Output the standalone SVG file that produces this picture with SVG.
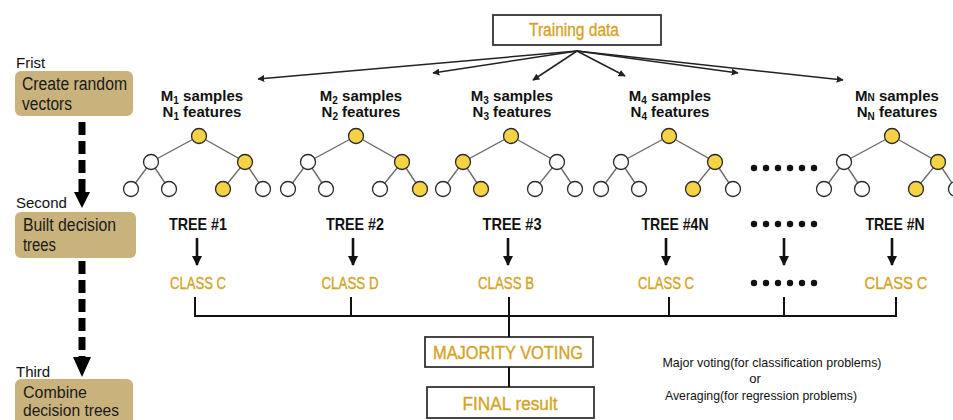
<svg xmlns="http://www.w3.org/2000/svg" xmlns:xlink="http://www.w3.org/1999/xlink" width="953" height="420" viewBox="0 0 953 420">
<style>
  text { font-family: "Liberation Sans", Arial, sans-serif; }
  .step { font-size: 15px; fill: #111; }
  .boxt { font-size: 18px; fill: #1a1a1a; }
  .boxs { font-size: 16.5px; fill: #1a1a1a; }
  .tan { fill: #c9b27c; }
  .lab { font-size: 15px; font-weight: bold; fill: #111; text-anchor: middle; }
  .tl { font-size: 16.5px; font-weight: bold; fill: #111; text-anchor: middle; }
  .gold { fill: #d4a326; stroke: #d4a326; stroke-width: 0.35; text-anchor: middle; }
  .cls { font-size: 16.5px; }
  .note { font-size: 13px; fill: #111; text-anchor: middle; }
  .edge { stroke: #6d6d6d; stroke-width: 1.4; fill: none; }
  .nw { fill: #fff; stroke: #2a2a2a; stroke-width: 1.3; }
  .ny { fill: #f6d345; stroke: #2a2a2a; stroke-width: 1.3; }
  .thin { stroke: #222; stroke-width: 1.5; fill: none; }
  .bus { stroke: #111; stroke-width: 2; fill: none; }
  .box { fill: #fff; stroke: #333; stroke-width: 1.8; }
  .dash { stroke: #000; stroke-width: 7; stroke-dasharray: 13 6; fill: none; }
</style>
<defs>
  <marker id="ah" viewBox="0 0 10 10" refX="9" refY="5" markerWidth="7" markerHeight="7" markerUnits="userSpaceOnUse" orient="auto">
    <path d="M0,0 L10,5 L0,10 z" fill="#222"/>
  </marker>
  <g id="edges">
    <path class="edge" d="M0,136 L-48,162 L-68,189 M-48,162 L-30,189 M0,136 L46,162 L24,189 M46,162 L64,189"/>
  </g>
  <path id="darrow" d="M0,0 L0,27" stroke="#111" stroke-width="2.6"/>
</defs>

<!-- Left steps -->
<g id="step1">
  <text class="step" x="16" y="68">Frist</text>
  <rect class="tan" x="15" y="71" width="118" height="45" rx="6"/>
  <text class="boxt" x="22" y="90" textLength="105" lengthAdjust="spacingAndGlyphs">Create random</text>
  <text class="boxt" x="22" y="110" textLength="50" lengthAdjust="spacingAndGlyphs">vectors</text>
</g>
<g id="step2">
  <text class="step" x="16" y="208">Second</text>
  <rect class="tan" x="15" y="212" width="121" height="46" rx="6"/>
  <text class="boxt" x="23" y="231" textLength="93" lengthAdjust="spacingAndGlyphs">Built decision</text>
  <text class="boxt" x="23" y="251" textLength="33" lengthAdjust="spacingAndGlyphs">trees</text>
</g>
<g id="step3">
  <text class="step" x="16" y="377">Third</text>
  <rect class="tan" x="15" y="379" width="118" height="50" rx="6"/>
  <text class="boxs" x="23" y="398" textLength="64" lengthAdjust="spacingAndGlyphs">Combine</text>
  <text class="boxs" x="23" y="416" textLength="96" lengthAdjust="spacingAndGlyphs">decision trees</text>
</g>

<!-- Training data -->
<g id="training">
  <rect class="box" x="493" y="15" width="168" height="30"/>
  <text class="gold" x="574" y="36" font-size="17.5" textLength="90" lengthAdjust="spacingAndGlyphs">Training data</text>
</g>

<!-- Trees -->
<g id="tree1">
  <text class="lab" x="202" y="101">M<tspan font-size="10" dy="3">1</tspan><tspan dy="-3"> samples</tspan></text>
  <text class="lab" x="202" y="117">N<tspan font-size="10" dy="3">1</tspan><tspan dy="-3"> features</tspan></text>
  <g transform="translate(199,0)">
    <use xlink:href="#edges"/>
    <circle class="ny" cx="0" cy="136" r="7.5"/>
    <circle class="nw" cx="-48" cy="162" r="7.5"/>
    <circle class="ny" cx="46" cy="162" r="7.5"/>
    <circle class="nw" cx="-68" cy="189" r="7.5"/>
    <circle class="nw" cx="-30" cy="189" r="7.5"/>
    <circle class="ny" cx="24" cy="189" r="7.5"/>
    <circle class="nw" cx="64" cy="189" r="7.5"/>
  </g>
  <text class="tl" x="198" y="230" textLength="58" lengthAdjust="spacingAndGlyphs">TREE #1</text>
  <use xlink:href="#darrow" transform="translate(197,238)"/>
  <path d="M192,256 L202,256 L197,266 z" fill="#111"/>
  <text class="gold cls" x="198" y="289" textLength="56" lengthAdjust="spacingAndGlyphs">CLASS C</text>
</g>

<g id="tree2">
  <text class="lab" x="361" y="101">M<tspan font-size="10" dy="3">2</tspan><tspan dy="-3"> samples</tspan></text>
  <text class="lab" x="361" y="117">N<tspan font-size="10" dy="3">2</tspan><tspan dy="-3"> features</tspan></text>
  <g transform="translate(356,0)">
    <use xlink:href="#edges"/>
    <circle class="ny" cx="0" cy="136" r="7.5"/>
    <circle class="nw" cx="-48" cy="162" r="7.5"/>
    <circle class="ny" cx="46" cy="162" r="7.5"/>
    <circle class="nw" cx="-68" cy="189" r="7.5"/>
    <circle class="nw" cx="-30" cy="189" r="7.5"/>
    <circle class="nw" cx="24" cy="189" r="7.5"/>
    <circle class="ny" cx="64" cy="189" r="7.5"/>
  </g>
  <text class="tl" x="355" y="230" textLength="58" lengthAdjust="spacingAndGlyphs">TREE #2</text>
  <use xlink:href="#darrow" transform="translate(353,238)"/>
  <path d="M348,256 L358,256 L353,266 z" fill="#111"/>
  <text class="gold cls" x="350" y="289" textLength="57" lengthAdjust="spacingAndGlyphs">CLASS D</text>
</g>

<g id="tree3">
  <text class="lab" x="512" y="101">M<tspan font-size="10" dy="3">3</tspan><tspan dy="-3"> samples</tspan></text>
  <text class="lab" x="512" y="117">N<tspan font-size="10" dy="3">3</tspan><tspan dy="-3"> features</tspan></text>
  <g transform="translate(511,0)">
    <use xlink:href="#edges"/>
    <circle class="ny" cx="0" cy="136" r="7.5"/>
    <circle class="ny" cx="-48" cy="162" r="7.5"/>
    <circle class="nw" cx="46" cy="162" r="7.5"/>
    <circle class="nw" cx="-68" cy="189" r="7.5"/>
    <circle class="ny" cx="-30" cy="189" r="7.5"/>
    <circle class="nw" cx="24" cy="189" r="7.5"/>
    <circle class="nw" cx="64" cy="189" r="7.5"/>
  </g>
  <text class="tl" x="512" y="230" textLength="59" lengthAdjust="spacingAndGlyphs">TREE #3</text>
  <use xlink:href="#darrow" transform="translate(508,238)"/>
  <path d="M503,256 L513,256 L508,266 z" fill="#111"/>
  <text class="gold cls" x="506" y="289" textLength="56" lengthAdjust="spacingAndGlyphs">CLASS B</text>
</g>

<g id="tree4">
  <text class="lab" x="670" y="101">M<tspan font-size="10" dy="3">4</tspan><tspan dy="-3"> samples</tspan></text>
  <text class="lab" x="670" y="117">N<tspan font-size="10" dy="3">4</tspan><tspan dy="-3"> features</tspan></text>
  <g transform="translate(669,0)">
    <use xlink:href="#edges"/>
    <circle class="ny" cx="0" cy="136" r="7.5"/>
    <circle class="nw" cx="-48" cy="162" r="7.5"/>
    <circle class="ny" cx="46" cy="162" r="7.5"/>
    <circle class="nw" cx="-68" cy="189" r="7.5"/>
    <circle class="nw" cx="-30" cy="189" r="7.5"/>
    <circle class="ny" cx="24" cy="189" r="7.5"/>
    <circle class="nw" cx="64" cy="189" r="7.5"/>
  </g>
  <text class="tl" x="675" y="230" textLength="67" lengthAdjust="spacingAndGlyphs">TREE #4N</text>
  <use xlink:href="#darrow" transform="translate(666,238)"/>
  <path d="M661,256 L671,256 L666,266 z" fill="#111"/>
  <text class="gold cls" x="666" y="289" textLength="56" lengthAdjust="spacingAndGlyphs">CLASS C</text>
</g>

<g id="treeDots">
  <g fill="#111">
    <circle cx="754" cy="168" r="3.2"/><circle cx="766" cy="168" r="3.2"/><circle cx="778" cy="168" r="3.2"/>
    <circle cx="790" cy="168" r="3.2"/><circle cx="802" cy="168" r="3.2"/><circle cx="814" cy="168" r="3.2"/>
    <circle cx="754" cy="224" r="3.2"/><circle cx="766" cy="224" r="3.2"/><circle cx="778" cy="224" r="3.2"/>
    <circle cx="790" cy="224" r="3.2"/><circle cx="802" cy="224" r="3.2"/><circle cx="814" cy="224" r="3.2"/>
    <circle cx="754" cy="283" r="3.2"/><circle cx="766" cy="283" r="3.2"/><circle cx="778" cy="283" r="3.2"/>
    <circle cx="790" cy="283" r="3.2"/><circle cx="802" cy="283" r="3.2"/><circle cx="814" cy="283" r="3.2"/>
  </g>
  <use xlink:href="#darrow" transform="translate(784,238)"/>
  <path d="M779,256 L789,256 L784,266 z" fill="#111"/>
</g>

<g id="treeN">
  <text class="lab" x="897" y="101">M<tspan font-size="10">N</tspan><tspan> samples</tspan></text>
  <text class="lab" x="897" y="117">N<tspan font-size="10" dy="3">N</tspan><tspan dy="-3"> features</tspan></text>
  <g transform="translate(892,0)">
    <use xlink:href="#edges"/>
    <circle class="ny" cx="0" cy="136" r="7.5"/>
    <circle class="nw" cx="-48" cy="162" r="7.5"/>
    <circle class="ny" cx="46" cy="162" r="7.5"/>
    <circle class="nw" cx="-68" cy="189" r="7.5"/>
    <circle class="nw" cx="-30" cy="189" r="7.5"/>
    <circle class="ny" cx="24" cy="189" r="7.5"/>
    <circle class="nw" cx="64" cy="189" r="7.5"/>
  </g>
  <text class="tl" x="895" y="230" textLength="59" lengthAdjust="spacingAndGlyphs">TREE #N</text>
  <use xlink:href="#darrow" transform="translate(892,238)"/>
  <path d="M887,256 L897,256 L892,266 z" fill="#111"/>
  <text class="gold cls" x="896" y="289" textLength="63" lengthAdjust="spacingAndGlyphs">CLASS C</text>
</g>

<!-- Result boxes -->
<g id="majority">
  <rect class="box" x="425" y="337" width="168" height="30"/>
  <text class="gold" x="508" y="358.5" font-size="18" textLength="150" lengthAdjust="spacingAndGlyphs">MAJORITY  VOTING</text>
</g>
<g id="final">
  <rect class="box" x="427" y="387" width="167" height="31"/>
  <text class="gold" x="510" y="409.5" font-size="18" textLength="95" lengthAdjust="spacingAndGlyphs">FINAL result</text>
</g>

<g id="note">
  <text class="note" x="772" y="367" textLength="219" lengthAdjust="spacingAndGlyphs">Major voting(for classification problems)</text>
  <text class="note" x="755" y="383">or</text>
  <text class="note" x="761" y="400" textLength="192" lengthAdjust="spacingAndGlyphs">Averaging(for regression problems)</text>
</g>

<!-- Connectors -->
<g id="connectors">
  <path class="thin" d="M577,51 L258,79" marker-end="url(#ah)"/>
  <path class="thin" d="M577,51 L433,73" marker-end="url(#ah)"/>
  <path class="thin" d="M577,51 L533,80" marker-end="url(#ah)"/>
  <path class="thin" d="M577,51 L625,76" marker-end="url(#ah)"/>
  <path class="thin" d="M577,51 L738,73" marker-end="url(#ah)"/>
  <path class="thin" d="M577,51 L843,80" marker-end="url(#ah)"/>
  <path class="bus" d="M195,297 L195,316 L896,316 L896,297 M351,297 L351,316 M509,297 L509,337 M669,297 L669,316 M784,297 L784,316 M509,367 L509,387"/>
  <path class="dash" d="M82,122 L82,192"/>
  <path d="M74,192 L90,192 L82,208 z" fill="#000"/>
  <path class="dash" d="M82,261 L82,357"/>
  <path d="M73,357 L91,357 L82,377 z" fill="#000"/>
</g>
</svg>
